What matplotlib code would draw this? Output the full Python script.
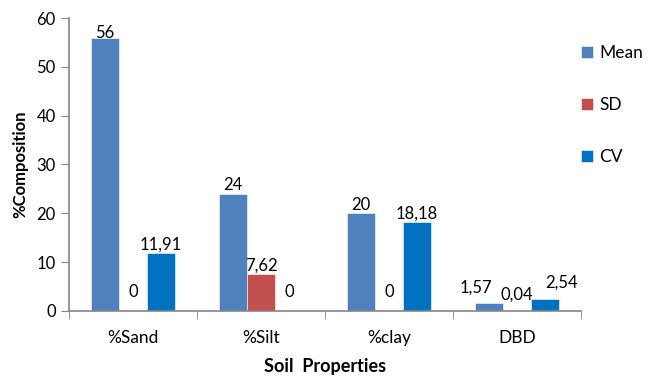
import matplotlib.pyplot as plt
import numpy as np

categories = ['%Sand', '%Silt', '%clay', 'DBD']
mean_vals = [56, 24, 20, 1.57]
sd_vals = [0, 7.62, 0, 0.04]
cv_vals = [11.91, 0, 18.18, 2.54]
mean_labels = ['56', '24', '20', '1,57']
sd_labels = ['0', '7,62', '0', '0,04']
cv_labels = ['11,91', '0', '18,18', '2,54']
series = [('Mean', mean_vals, mean_labels, '#4F81BD'),
          ('SD', sd_vals, sd_labels, '#C0504D'),
          ('CV', cv_vals, cv_labels, '#0070C0')]

plt.rcParams['font.family'] = ['Lato', 'DejaVu Sans']

fig = plt.figure(figsize=(6.48, 3.83), dpi=100)
ax = fig.add_axes([0.1065, 0.188, 0.790, 0.765])

# label nudges (points): the DBD labels are spread out so they don't overlap
nudge = {('Mean', 3): (-9, 8), ('SD', 3): (0, 8), ('CV', 3): (12, 8), ('Mean', 0): (0, 0)}

x = np.arange(len(categories))
w = 0.22
handles = []
for i, (name, vals, labs, col) in enumerate(series):
    pos = x + (i - 1) * w
    bars = ax.bar(pos, vals, w, color=col, label=name, edgecolor='white', linewidth=0.4)
    handles.append(bars)
    for j, (xi, v, lab) in enumerate(zip(pos, vals, labs)):
        dx, dy = nudge.get((name, j), (0, 10 if v == 0 else 2.5))
        ax.annotate(lab, (xi, v), xytext=(dx, dy), textcoords='offset points',
                    ha='center', va='baseline', fontsize=12)

ax.set_xlim(-0.5, 3.5)
ax.set_ylim(0, 60)
ax.set_yticks(range(0, 61, 10))
ax.set_xticks(x)
ax.set_xticklabels(categories, fontsize=12.5)
ax.set_xticks(np.arange(-0.5, 4, 1), minor=True)
ax.tick_params(axis='x', which='major', length=0, pad=14)
ax.tick_params(axis='x', which='minor', length=6, color='#868686')
ax.tick_params(axis='y', length=6, color='#868686', labelsize=12)
for s in ['top', 'right']:
    ax.spines[s].set_visible(False)
for s in ['left', 'bottom']:
    ax.spines[s].set_color('#868686')
    ax.spines[s].set_linewidth(1.2)

ax.set_xlabel('Soil  Properties', fontsize=13, fontweight='bold', labelpad=8)
ax.set_ylabel('%Composition', fontsize=12, fontweight='bold', labelpad=6)

fig.legend(handles=handles, loc='upper left', bbox_to_anchor=(0.872, 0.922), frameon=False,
           fontsize=12.5, labelspacing=2.05, handlelength=0.7, handleheight=0.7, handletextpad=0.35)

fig.savefig('out.png', dpi=100)
